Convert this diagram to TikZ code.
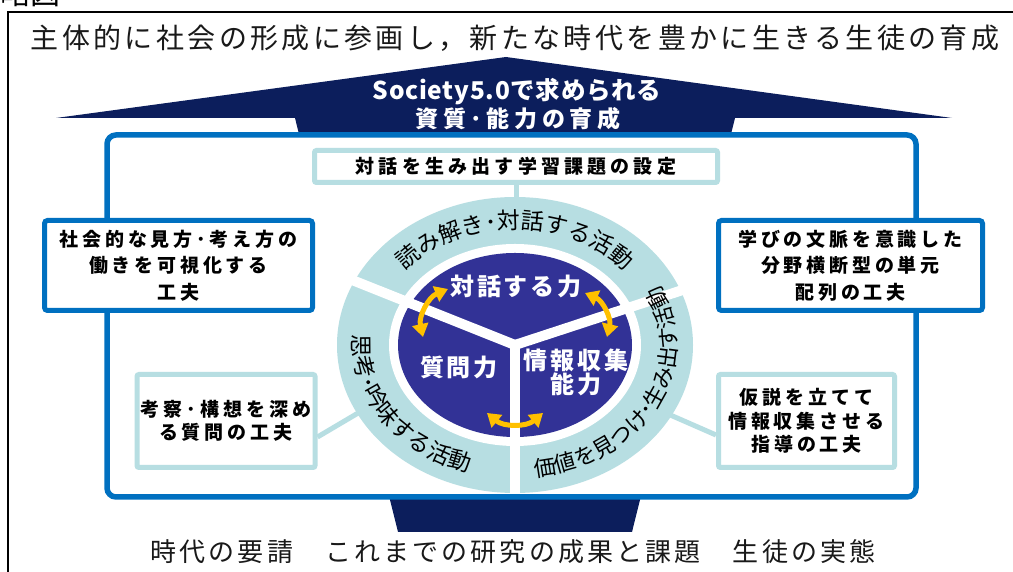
\documentclass[tikz,border=0pt]{standalone}
\usepackage{fontspec}
\newfontfamily\jp{Noto Sans CJK JP}
\usetikzlibrary{arrows.meta,decorations.text,calc}
\definecolor{navy}{RGB}{12,30,92}
\definecolor{frameblue}{RGB}{0,112,192}
\definecolor{ringteal}{RGB}{183,222,226}
\definecolor{core}{RGB}{50,50,150}
\definecolor{gold}{RGB}{255,192,0}
\newcommand\fsz[2]{\fontsize{#1pt}{#2pt}\selectfont}
\tikzset{
  bluebox/.style={draw=frameblue, line width=5pt, fill=white, rounded corners=3pt, inner sep=0pt},
  tealbox/.style={draw=ringteal, line width=5pt, fill=white, rounded corners=2pt, inner sep=0pt},
  boxtext/.style={font={\jp\bfseries\fsz{19}{26.5}\addfontfeatures{LetterSpace=20}}, align=center, text=black},
  boxtexttight/.style={font={\jp\bfseries\fsz{19}{23.5}\addfontfeatures{LetterSpace=21}}, align=center, text=black},
  tealline/.style={draw=ringteal, line width=5pt},
  gap/.style={draw=white, line width=10pt},
  goldarrow/.style={draw=gold, line width=5pt, {Triangle[length=13pt,width=16pt]}-{Triangle[length=13pt,width=16pt]}},
  coretext/.style={font={\jp\bfseries\fsz{24}{23}\addfontfeatures{LetterSpace=12}}, text=white, align=center, inner sep=0pt},
}
\begin{document}
\begin{tikzpicture}[x=1pt,y=1pt]
\useasboundingbox (0,0) rectangle (1013,572);
% cut heading at top-left
\node[anchor=base west, inner sep=0pt, font={\jp\fsz{30}{34}}] (cut) at (0,567) {略図};
% outer black frame
\draw[line width=1.5pt, black] (8,560) rectangle (1030,-10);
% title
\node[font={\jp\fsz{28}{34}\addfontfeatures{LetterSpace=12}}, text=black!90] (title) at (515,534) {主体的に社会の形成に参画し，新たな時代を豊かに生きる生徒の育成};
% big arrow
\fill[navy] (56,454) -- (506,515) -- (952,454) -- (735,454) -- (632,40) -- (398,40) -- (295,454) -- cycle;
\node[font={\jp\bfseries\fsz{24.5}{27}\addfontfeatures{LetterSpace=3}}, text=white, inner sep=0pt] (soc1) at (517,480) {Society5.0で求められる};
\node[font={\jp\bfseries\fsz{23}{27}\addfontfeatures{LetterSpace=20}}, text=white, inner sep=0pt] (soc2) at (518,453) {資質･能力の育成};
% blue frame
\draw[draw=frameblue, line width=5.5pt, fill=white, rounded corners=9pt] (107,437) rectangle (916,75);
% centre and connector ends
\coordinate (C) at (515,227);
\coordinate (topend) at (516,370);
\coordinate (llend) at (370,166);
\coordinate (lrend) at (668,158);
% boxes
\node[tealbox, minimum width=403pt, minimum height=32pt, font={\jp\bfseries\fsz{19}{24}\addfontfeatures{LetterSpace=22}}, text=black] (tbox) at (516,405.5) {対話を生み出す学習課題の設定};
\node[tealbox, minimum width=178pt, minimum height=93pt, boxtexttight] (llbox) at (226,151) {考察･構想を深め\\る質問の工夫};
\node[tealbox, minimum width=176pt, minimum height=93pt, boxtexttight] (lrbox) at (806.5,151) {仮説を立てて\\情報収集させる\\指導の工夫};
% connectors
\draw[tealline] (tbox.south) -- (topend);
\draw[tealline] ([yshift=-16pt]llbox.east) -- (llend);
\draw[tealline] ([yshift=-14pt]lrbox.west) -- (lrend);
% ring
\fill[ringteal] (C) ellipse[x radius=178pt, y radius=148pt];
\fill[white] (C) ellipse[x radius=126pt, y radius=101pt];
\fill[core] (C) ellipse[x radius=117pt, y radius=92pt];
\draw[gap] (C) -- ++(-188,75);
\draw[gap] (C) -- ++(192,63);
\draw[gap] (C) -- ++(0,-149);
% ring texts
\path[decorate, decoration={text along path, text align=center,
  text={|\jp\fsz{23}{24}|読み解き･対話する活動}}]
  ($(C)+(162:143pt and 116pt)$) arc[start angle=162, end angle=18, x radius=143pt, y radius=116pt];
\path[decorate, decoration={text along path, text align=center,
  text={|\jp\fsz{23}{24}|思考･吟味する活動}}]
  ($(C)+(165:162pt and 133pt)$) arc[start angle=165, end angle=262, x radius=162pt, y radius=133pt];
\path[decorate, decoration={text along path, text align=center,
  text={|\jp\fsz{22}{24}|価値を見つけ･生み出す活動}}]
  ($(C)+(276:162pt and 133pt)$) arc[start angle=276, end angle=388, x radius=162pt, y radius=133pt];
% side boxes (over the frame)
\node[bluebox, minimum width=268pt, minimum height=90pt, boxtext] (lbox) at (178.5,306.5) {社会的な見方･考え方の\\働きを可視化する\\工夫};
\node[bluebox, minimum width=264pt, minimum height=90pt, boxtext] (rbox) at (850.5,306.5) {学びの文脈を意識した\\分野横断型の単元\\配列の工夫};
% core texts
\node[coretext] (dlg) at (516,285.5) {対話する力};
\node[coretext] (qst) at (459,205) {質問力};
\node[coretext] (inf) at (576,200) {情報収集\\能力};
% gold arrows
\coordinate (a1) at (448,283); \coordinate (a2) at (423,235);
\coordinate (b1) at (585,279); \coordinate (b2) at (607,235);
\coordinate (c1) at (487,159); \coordinate (c2) at (543,159);
\draw[goldarrow] (a1) to[bend right=40] (a2);
\draw[goldarrow] (b1) to[bend left=40] (b2);
\draw[goldarrow] (c1) to[bend right=40] (c2);
% bottom text
\node[font={\jp\fsz{26}{30}\addfontfeatures{LetterSpace=12}}, text=black!90] (bottom) at (513,20) {時代の要請　これまでの研究の成果と課題　生徒の実態};
\end{tikzpicture}
\end{document}
